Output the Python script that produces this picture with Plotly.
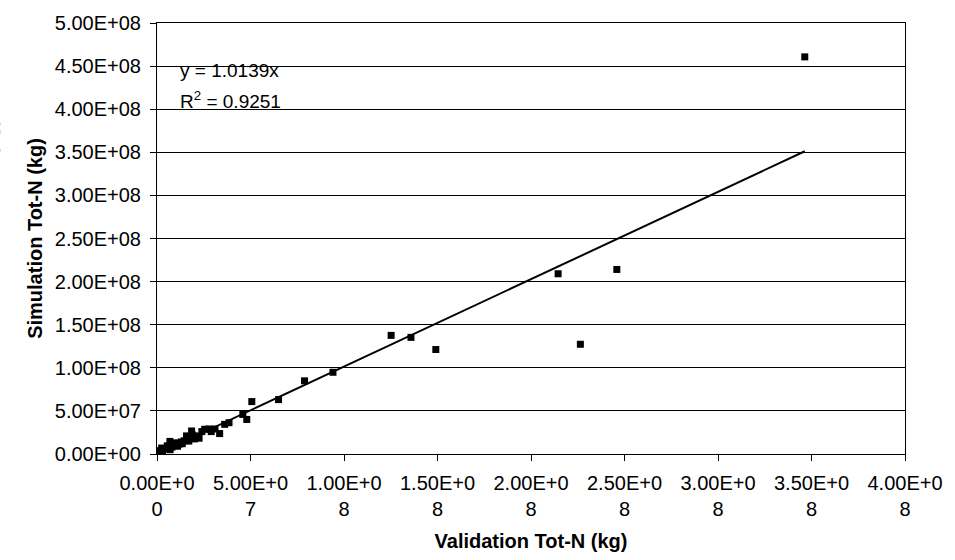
import plotly.graph_objects as go

# Validation (x) and simulation (y) Tot-N values, kg
validation = [3.464e8, 2.459e8, 2.264e8, 2.145e8, 1.491e8, 1.358e8, 1.252e8,
              9.41e7, 7.89e7, 6.50e7, 5.07e7, 4.80e7, 4.59e7, 3.85e7, 3.62e7,
              3.35e7, 2.78e7, 2.55e7, 2.25e7, 1.85e7, 1.58e7, 1.45e7, 1.20e7,
              6.9e6, 5.5e6, 2.5e6, 1.0e6, 4.0e6, 8.0e6, 1.0e7, 1.3e7, 1.6e7,
              1.9e7, 1.1e7, 9.0e6, 3.0e6, 1.5e6, 5.0e5, 2.0e5, 7.0e6, 1.35e7,
              2.1e7, 2.4e7, 2.9e7, 3.1e7, 1.7e7, 2.0e7]
simulation = [4.607e8, 2.141e8, 1.273e8, 2.091e8, 1.212e8, 1.353e8, 1.376e8,
              9.48e7, 8.49e7, 6.31e7, 6.08e7, 4.01e7, 4.59e7, 3.63e7, 3.44e7,
              2.37e7, 2.90e7, 2.87e7, 1.83e7, 2.67e7, 2.10e7, 1.53e7, 1.15e7,
              1.46e7, 9.5e6, 6.9e6, 3.8e6, 6.0e6, 8.0e6, 1.3e7, 1.4e7, 1.7e7,
              2.2e7, 9.0e6, 1.2e7, 2.0e6, 1.0e6, 8.0e5, 3.0e5, 5.0e6, 1.2e7,
              2.1e7, 2.6e7, 2.6e7, 2.9e7, 1.5e7, 1.75e7]
slope = 1.0139
r_squared = 0.9251

x_tickvals = [0, 5e7, 1e8, 1.5e8, 2e8, 2.5e8, 3e8, 3.5e8, 4e8]
x_ticktext = ["0.00E+0<br>0", "5.00E+0<br>7", "1.00E+0<br>8", "1.50E+0<br>8",
              "2.00E+0<br>8", "2.50E+0<br>8", "3.00E+0<br>8", "3.50E+0<br>8",
              "4.00E+0<br>8"]
y_tickvals = [0, 5e7, 1e8, 1.5e8, 2e8, 2.5e8, 3e8, 3.5e8, 4e8, 4.5e8, 5e8]
y_ticktext = ["0.00E+00", "5.00E+07", "1.00E+08", "1.50E+08", "2.00E+08",
              "2.50E+08", "3.00E+08", "3.50E+08", "4.00E+08", "4.50E+08",
              "5.00E+08"]

FONT = "Liberation Sans, Arial, sans-serif"

fig = go.Figure()
fig.add_trace(go.Scatter(
    x=validation, y=simulation, mode="markers",
    marker=dict(symbol="square", size=7, color="black"),
    showlegend=False, hoverinfo="x+y"))

x_max = max(validation)
fig.add_trace(go.Scatter(
    x=[0, x_max], y=[0, slope * x_max], mode="lines",
    line=dict(color="black", width=2), showlegend=False, hoverinfo="skip"))

fig.update_layout(
    width=955, height=560,
    margin=dict(l=157, r=46, t=19, b=105),
    paper_bgcolor="white", plot_bgcolor="white",
    font=dict(family=FONT, color="black", size=20),
    xaxis=dict(range=[0, 4e8], tickvals=x_tickvals, ticktext=x_ticktext,
               showline=True, linecolor="black", linewidth=1, mirror=True,
               ticks="outside", ticklen=6, tickcolor="black",
               showgrid=False, zeroline=False, ticklabelstandoff=5,
               tickfont=dict(size=20),
               title=dict(text="<b>Validation Tot-N (kg)</b>",
                          font=dict(size=20), standoff=14)),
    yaxis=dict(range=[0, 5e8], tickvals=y_tickvals, ticktext=y_ticktext,
               showline=True, linecolor="black", linewidth=1, mirror=True,
               ticks="outside", ticklen=6, tickcolor="black",
               showgrid=True, gridcolor="black", gridwidth=1, zeroline=False,
               ticklabelstandoff=5,
               tickfont=dict(size=20),
               title=dict(text="<b>Simulation Tot-N (kg)</b>",
                          font=dict(size=20), standoff=6)),
)

fig.add_annotation(xref="paper", yref="paper", x=0.028, y=0.890,
                   xanchor="left", yanchor="middle", showarrow=False,
                   text="y = %.4fx" % slope, font=dict(size=19))
fig.add_annotation(xref="paper", yref="paper", x=0.028, y=0.821,
                   xanchor="left", yanchor="middle", showarrow=False,
                   text="R<sup>2</sup> = %.4f" % r_squared, font=dict(size=19))

# sliver of a neighbouring (cut-off) axis title at the far left edge
fig.add_annotation(xref="paper", yref="paper", x=(-12 - 157) / 752,
                   y=(455 - 217) / 436, xanchor="center", yanchor="middle",
                   showarrow=False, textangle=-90,
                   text="<b>Simulation Tot-N (kg)</b>", font=dict(size=20))

fig.write_html("out.html")
